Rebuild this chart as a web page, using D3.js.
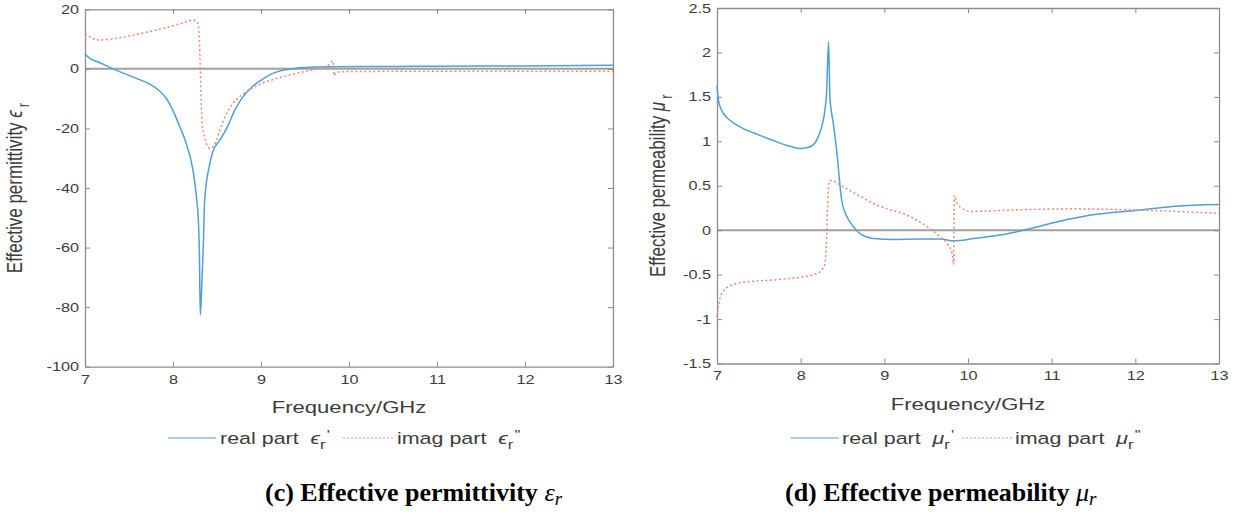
<!doctype html>
<html>
  <head>
    <meta charset="utf-8">
    <title>Effective permittivity / permeability</title>
    <script src="https://cdn.jsdelivr.net/npm/d3@7"></script>
    <style>
      body { margin: 0; background: #fff; }
    </style>
  </head>
  <body>
    <script>
      // ---- data ----
      const xTicks = [7, 8, 9, 10, 11, 12, 13];
      const epsTicks = [-100, -80, -60, -40, -20, 0, 20];
      const muTicks = [-1.5, -1, -0.5, 0, 0.5, 1, 1.5, 2, 2.5];

      // real part eps'
      const fEpsRe = [7.00, 7.05, 7.15, 7.32, 7.50, 7.62, 7.74, 7.85, 7.93, 8.00, 8.08, 8.15, 8.22, 8.27, 8.29, 8.30, 8.31,
                      8.32, 8.33, 8.344, 8.36, 8.41, 8.45, 8.53, 8.61, 8.70, 8.78, 8.90, 8.99, 9.10, 9.18,
                      9.30, 9.44, 9.60, 9.82, 10.5, 11.0, 12.0, 13.0];
      const epsRe = [5.0, 3.6, 2.3, 0, -2.2, -3.6, -5.2, -7.5, -10.2, -14, -19.6, -25, -33, -44, -52, -62, -82.6,
                     -78, -70, -60, -44, -33, -28, -24, -20, -14, -10, -6, -4, -2, -1,
                     -0.2, 0.4, 0.6, 0.7, 0.8, 0.9, 1.0, 1.2];
      // imag part eps''
      const fEpsIm = [7.00, 7.08, 7.17, 7.30, 7.50, 7.70, 7.90, 8.10, 8.23, 8.28, 8.30, 8.31, 8.32, 8.33,
                      8.36, 8.42, 8.48, 8.53, 8.60, 8.68, 8.78, 8.875, 9.00, 9.22, 9.40, 9.60, 9.75, 9.82,
                      9.83, 9.86, 10.0, 11.0, 12.0, 13.0];
      const epsIm = [11.8, 10.3, 9.7, 10.0, 11.0, 12.3, 13.7, 15.3, 16.4, 15.5, 10, 0, -10, -18,
                     -23, -26.7, -25, -20.7, -15.5, -11.7, -8.8, -6.9, -5, -2.9, -1.5, -0.3, 0.8, 2.6,
                     -2.3, -1.1, -0.9, -0.8, -0.8, -0.8];
      // real part mu'
      const fMuRe = [7.00, 7.02, 7.05, 7.08, 7.15, 7.28, 7.45, 7.67, 7.85, 7.99, 8.08, 8.15, 8.20, 8.25,
                     8.29, 8.31, 8.333, 8.35, 8.39, 8.43, 8.49, 8.56, 8.63, 8.71, 8.80, 8.87, 9.11, 9.40,
                     9.67, 9.83, 10.07, 10.47, 10.71, 11.07, 11.47, 12.03, 12.47, 13.0];
      const muRe = [1.62, 1.45, 1.36, 1.31, 1.24, 1.16, 1.09, 1.01, 0.95, 0.92, 0.93, 0.96, 1.03, 1.16,
                    1.35, 1.55, 2.12, 1.5, 1.2, 0.9, 0.34, 0.14, 0.04, -0.04, -0.08, -0.094, -0.105, -0.1,
                    -0.1, -0.12, -0.094, -0.04, 0.01, 0.094, 0.17, 0.225, 0.27, 0.29];
      // imag part mu''
      const fMuIm = [7.00, 7.02, 7.04, 7.08, 7.12, 7.20, 7.28, 7.50, 7.68, 7.85, 7.99, 8.15, 8.23, 8.27,
                     8.29, 8.31, 8.32, 8.33, 8.35, 8.37, 8.47, 8.60, 8.79, 8.87, 9.07, 9.27, 9.51, 9.67,
                     9.75, 9.81, 9.83, 9.835, 9.87, 9.91, 10.03, 10.2, 10.47, 11.27, 12.07, 12.5, 13.0];
      const muIm = [-0.98, -0.85, -0.75, -0.68, -0.645, -0.61, -0.59, -0.57, -0.56, -0.545, -0.53, -0.5, -0.47, -0.42,
                    -0.375, -0.1, 0.2, 0.45, 0.56, 0.56, 0.51, 0.44, 0.34, 0.3, 0.23, 0.17, 0.04, -0.075,
                    -0.15, -0.26, -0.39, 0.39, 0.3, 0.26, 0.21, 0.215, 0.225, 0.24, 0.225, 0.21, 0.19];

      const SX = 1.3;   // picture is stretched sideways
      const blue = '#4f9fd8';
      const orange = '#ef8a6c';
      const axisColor = '#8c8c8c';
      const textColor = '#3c3c3c';
      const sans = '"Liberation Sans", Arial, sans-serif';

      const svg = d3.select('body').append('svg')
          .attr('width', 1237)
          .attr('height', 516);

      function drawPanel(p) {
        const x = d3.scaleLinear().domain([7, 13]).range([p.left, p.right]);
        const y = d3.scaleLinear().domain(p.yDomain).range([p.bottom, p.top]);
        const g = svg.append('g');

        // zero line
        g.append('line')
            .attr('x1', x(7)).attr('x2', x(13))
            .attr('y1', y(0)).attr('y2', y(0))
            .attr('stroke', '#a0a0a0')
            .attr('stroke-width', 2);

        // axes, ticks pointing inside
        const styleAxis = sel => {
          sel.select('.domain').attr('stroke', axisColor).attr('stroke-width', 1.3);
          sel.selectAll('.tick line').attr('stroke', axisColor);
          sel.selectAll('.tick text')
              .attr('fill', textColor)
              .style('font-family', sans)
              .style('font-size', '12.5px');
        };
        g.append('g')
            .attr('transform', `translate(0,${p.bottom})`)
            .call(d3.axisBottom(x).tickValues(xTicks).tickSize(-5).tickSizeOuter(0).tickPadding(8)
              .tickFormat(d3.format('d')))
            .call(styleAxis)
            .call(s => s.selectAll('.tick text').attr('transform', `scale(${SX},1)`));
        g.append('g')
            .attr('transform', `translate(${p.left},0)`)
            .call(d3.axisLeft(y).tickValues(p.yTicks).tickSize(-5).tickSizeOuter(0)
              .tickFormat(d => String(d)))
            .call(styleAxis)
            .call(s => s.selectAll('.tick text')
              .attr('x', -6 / SX)
              .attr('transform', `scale(${SX},1)`));
        g.append('g')
            .attr('transform', `translate(0,${p.top})`)
            .call(d3.axisTop(x).tickValues(xTicks).tickSize(-5).tickSizeOuter(0).tickFormat(''))
            .call(styleAxis);
        g.append('g')
            .attr('transform', `translate(${p.right},0)`)
            .call(d3.axisRight(y).tickValues(p.yTicks).tickSize(-5).tickSizeOuter(0).tickFormat(''))
            .call(styleAxis);

        // curves
        const line = d3.line()
            .x(d => x(d[0]))
            .y(d => y(d[1]))
            .curve(d3.curveMonotoneX);
        g.append('path')
            .attr('d', line(d3.zip(p.fRe, p.re)))
            .attr('fill', 'none')
            .attr('stroke', blue)
            .attr('stroke-width', 1.5);
        g.append('path')
            .attr('d', line(d3.zip(p.fIm, p.im)))
            .attr('fill', 'none')
            .attr('stroke', orange)
            .attr('stroke-width', 1.5)
            .attr('stroke-dasharray', '2,2.5');

        // x label
        g.append('text')
            .attr('transform', `translate(${(p.left + p.right) / 2},${p.bottom + 46}) scale(${SX},1)`)
            .attr('text-anchor', 'middle')
            .attr('fill', textColor)
            .style('font-family', sans)
            .style('font-size', '17px')
            .text('Frequency/GHz');

        // y label
        const yl = g.append('text')
            .attr('transform', `translate(${p.yLabelX},${(p.top + p.bottom) / 2}) scale(${SX},1) rotate(-90)`)
            .attr('text-anchor', 'middle')
            .attr('fill', textColor)
            .style('font-family', sans)
            .style('font-size', '17px');
        yl.append('tspan').text(p.yLabel + ' ');
        yl.append('tspan').style('font-style', 'italic').text(p.sym);
        yl.append('tspan').attr('dx', 3).attr('dy', 5).style('font-size', '13px').text('r');

        // legend
        const ly = 438;
        g.append('line')
            .attr('x1', p.leg[0]).attr('x2', p.leg[0] + 48)
            .attr('y1', ly).attr('y2', ly)
            .attr('stroke', blue).attr('stroke-width', 1.2);
        g.append('line')
            .attr('x1', p.leg[2]).attr('x2', p.leg[2] + 52)
            .attr('y1', ly).attr('y2', ly)
            .attr('stroke', orange).attr('stroke-width', 1.2)
            .attr('stroke-dasharray', '2,2');
        const legText = (x0, label, mark) => {
          const t = g.append('text')
              .attr('transform', `translate(${x0},${ly + 6}) scale(${SX},1)`)
              .attr('fill', textColor)
              .style('font-family', sans)
              .style('font-size', '16.5px');
          t.append('tspan').text(label + '\u00a0\u00a0');
          t.append('tspan').style('font-style', 'italic').text(p.sym);
          t.append('tspan').attr('dy', 5).style('font-size', '12.5px').text('r');
          t.append('tspan').attr('dy', -10).attr('dx', 1).style('font-size', '12.5px').text(mark);
        };
        legText(p.leg[1], 'real part', "'");
        legText(p.leg[3], 'imag part', '"');

        // caption
        const cap = g.append('text')
            .attr('x', p.capX)
            .attr('y', 501)
            .attr('fill', '#000')
            .style('font-family', '"Liberation Serif", "Times New Roman", serif')
            .style('font-size', '26px');
        cap.append('tspan').style('font-weight', 'bold').text(p.caption + ' ');
        cap.append('tspan').style('font-style', 'italic').text(p.capSym);
        cap.append('tspan').attr('dy', 4).style('font-style', 'italic').style('font-size', '19px').text('r');
      }

      drawPanel({
        left: 85, right: 613, top: 9.3, bottom: 366.7,
        yDomain: [-100, 20], yTicks: epsTicks,
        fRe: fEpsRe, re: epsRe, fIm: fEpsIm, im: epsIm,
        yLabel: 'Effective permittivity', sym: '\u03f5', yLabelX: 22,
        leg: [168, 220, 343, 397],
        caption: '(c) Effective permittivity', capSym: '\u03b5', capX: 265
      });

      drawPanel({
        left: 717, right: 1219, top: 8, bottom: 363.5,
        yDomain: [-1.5, 2.5], yTicks: muTicks,
        fRe: fMuRe, re: muRe, fIm: fMuIm, im: muIm,
        yLabel: 'Effective permeability', sym: '\u03bc', yLabelX: 665,
        leg: [791, 842, 962, 1015],
        caption: '(d) Effective permeability', capSym: '\u03bc', capX: 785
      });
    </script>
  </body>
</html>
